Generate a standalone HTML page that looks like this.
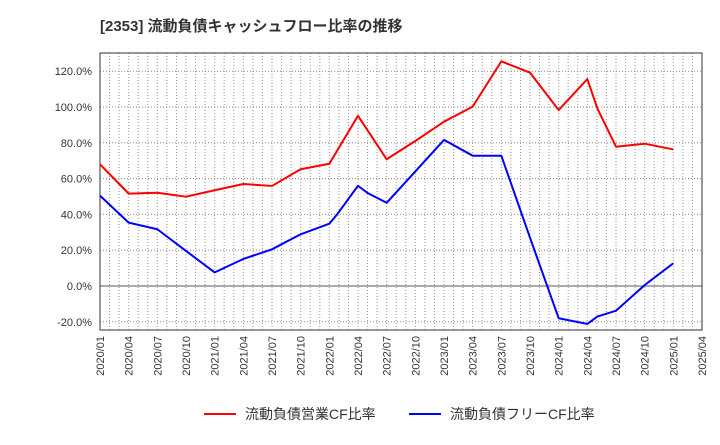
<!DOCTYPE html>
<html><head><meta charset="utf-8"><style>
body{margin:0;background:#fff;font-family:"Liberation Sans","Noto Sans CJK JP",sans-serif;}
svg text{font-family:"Liberation Sans","Noto Sans CJK JP",sans-serif;}
</style></head><body>
<svg id="chart" width="720" height="440" xmlns="http://www.w3.org/2000/svg">
<text x="100" y="31" font-size="15" font-weight="bold" fill="#333">[2353]  流動負債キャッシュフロー比率の推移</text>
<g id="grid"></g><g id="axes"></g><g id="series"></g>
<g>
<line x1="204" y1="414" x2="236" y2="414" stroke="#f00" stroke-width="2"/>
<text x="245" y="419" font-size="14" fill="#333">流動負債営業CF比率</text>
<line x1="409" y1="414" x2="441" y2="414" stroke="#00f" stroke-width="2"/>
<text x="450" y="419" font-size="14" fill="#333">流動負債フリーCF比率</text>
</g>
</svg>
<script>
const xLabels=["2020/01","2020/04","2020/07","2020/10","2021/01","2021/04","2021/07","2021/10","2022/01","2022/04","2022/07","2022/10","2023/01","2023/04","2023/07","2023/10","2024/01","2024/04","2024/07","2024/10","2025/01","2025/04"];
const yTicks=[-20,0,20,40,60,80,100,120];
const redIdx=[0,1,2,3,4,5,6,7,8,9,10,11,12,13,14,15,16,17,17.35,18,19,20];
const redVals=[68,51.6,52.1,49.9,53.5,57,55.9,65.2,68.3,95.1,70.8,81,91.8,100.2,125.5,119.2,98.3,115.6,99.2,77.8,79.5,76.3];
const blueIdx=[0,1,2,3,4,5,6,7,8,8.3,9,9.35,10,11,12,13,14,15,16,17,17.35,18,19,20];
const blueVals=[50.5,35.4,31.7,19.6,7.6,15.1,20.5,28.9,34.8,40.6,56,51.8,46.5,64,81.6,72.8,72.8,27,-18,-21.2,-17.1,-13.8,0.5,12.7];
const L=100,R=702,T=53,B=330;
const X=i=>L+i*(R-L)/21;
const TX=k=>L+k*(R-L)/21;
const Y=v=>286-v*1.79;
const ns="http://www.w3.org/2000/svg";
function mk(tag,attrs,parent){const e=document.createElementNS(ns,tag);for(const k in attrs)e.setAttribute(k,attrs[k]);parent.appendChild(e);return e;}
const grid=document.getElementById('grid'),axes=document.getElementById('axes'),series=document.getElementById('series');
for(let m=1;m<63;m++){const x=L+m*(R-L)/63;const g=mk('line',{x1:x,x2:x,y1:T,y2:B,stroke:'#999','stroke-dasharray':'1,2','stroke-width':1},grid);

}
yTicks.forEach(v=>{const y=Y(v);const g=mk('line',{x1:L,x2:R,y1:y,y2:y,stroke:v===0?'#555':'#888','stroke-dasharray':v===0?'':'1,2','stroke-width':1},grid);


const t=mk('text',{x:L-8,y:y+4,'text-anchor':'end','font-size':11,fill:'#333'},axes);t.textContent=v.toFixed(1)+'%';

});
xLabels.forEach((s,k)=>{const x=TX(k);const t=mk('text',{x:x+4,y:B+6,'text-anchor':'end','font-size':11,fill:'#333',transform:`rotate(-90 ${x+4} ${B+6})`},axes);t.textContent=s;

});
const fr=mk('rect',{x:L,y:T,width:R-L,height:B-T,fill:'none',stroke:'#333','stroke-width':1},axes);


function line(idx,vals,col,name){const p=mk('polyline',{points:idx.map((i,k)=>X(i)+','+Y(vals[k])).join(' '),fill:'none',stroke:col,'stroke-width':2,'stroke-linejoin':'round'},series);

}
line(redIdx,redVals,'#f00','operating-cf-ratio-line');
line(blueIdx,blueVals,'#00f','free-cf-ratio-line');
</script>
</body></html>
